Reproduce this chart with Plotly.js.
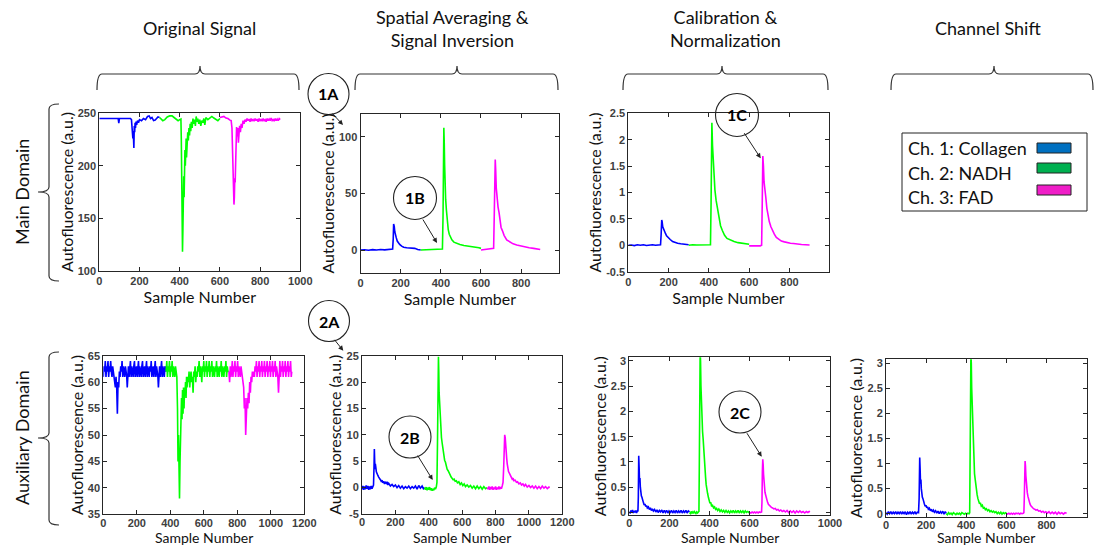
<!DOCTYPE html>
<html><head><meta charset="utf-8">
<script src="https://cdn.plot.ly/plotly-3.0.1.min.js"></script>
<style>html,body{margin:0;padding:0;background:#fff}#chart{width:1097px;height:547px}</style>
</head><body><div id="chart"></div>
<script>
// ---------- DATA: [sample number, autofluorescence] ----------
// Main domain – original signal
const mainOrigCh1 = [[0,245],[20,245],[40,245.5],[60,245],[80,245],[94,245],[97,240.5],[100,245],[120,245],[140,245.3],[155,245],[160,244],[163,230],[165,237],[167,226],[169,233],[172,217],[174,238],[176,232],[178,241],[180,236],[183,242],[186,239],[190,243],[195,241],[200,244],[210,243],[220,245],[230,244],[240,247],[248,247.5],[255,245],[262,246],[270,243],[278,243.5],[285,245],[292,246.5],[300,246]];
const mainOrigCh2 = [[300,246],[308,244.5],[316,243],[326,244],[338,246.5],[350,247.5],[362,247.5],[372,246],[382,244],[392,243],[400,244],[406,244.5],[408,225],[410,180],[412,140],[414,118],[416,140],[418,172],[420,190],[422,170],[424,205],[426,215],[428,200],[430,215],[432,226],[434,208],[436,228],[438,218],[440,232],[443,224],[446,236],[449,229],[452,240],[455,233],[458,242],[462,236],[466,245],[470,240],[474,244],[478,238],[482,247],[486,242],[490,245],[495,240],[500,244],[505,238],[510,243],[515,241],[520,245],[525,239],[530,246],[540,244],[550,246],[560,247],[570,245.5],[580,244],[590,243],[600,245]];
const mainOrigCh3 = [[600,246],[610,246.5],[620,247],[630,245.5],[640,245],[650,243.5],[656,243],[660,236],[663,215],[666,195],[668,178],[670,163],[672,170],[674,188],[676,184],[678,200],[680,222],[683,237],[686,228],[689,236],[692,222],[695,228],[698,238],[702,232],[706,240],[710,236],[715,243],[720,240],[725,244],[730,242],[735,245],[740,243],[745,244.5],[750,242],[755,245],[760,243],[765,244],[770,242.5],[775,245],[780,243],[785,244.5],[790,242],[795,245],[800,243],[805,244],[810,242.5],[815,245],[820,243],[825,244],[830,242],[835,245],[840,243],[845,244.5],[850,243],[855,245.5],[860,243],[865,244],[870,242.5],[875,245],[880,243],[885,244.5],[890,243],[895,245],[900,244]];
// Main domain – spatial averaging & inversion
const mainSpatCh1 = [[0,0],[20,0.3],[40,-0.2],[60,0.4],[80,0.1],[100,0.5],[120,0.2],[140,0.3],[155,0.5],[160,1],[163,10],[165,23],[168,21],[171,16],[174,13],[178,11],[183,8],[188,6.5],[195,5],[205,3.5],[215,2.5],[230,2],[245,1.8],[260,1.2],[270,1.5],[285,0.5],[300,0]];
const mainSpatCh2 = [[300,0],[330,0.3],[360,0.5],[390,0.8],[408,1],[411,30],[413,80],[415,108],[417,95],[419,75],[421,58],[424,45],[428,35],[432,25],[437,18],[442,14],[448,11],[455,9],[465,7],[478,6],[495,5],[515,4],[540,3.5],[560,3],[575,2.5],[590,2],[600,1.5]];
const mainSpatCh3 = [[600,0],[620,0.3],[640,0.6],[655,0.8],[663,1.5],[666,30],[669,65],[671,80],[673,72],[676,55],[680,45],[685,38],[690,33],[695,25],[700,20],[707,17],[715,13],[728,9],[745,7],[760,5.5],[778,4.5],[800,3.5],[820,2.5],[840,2],[862,1.5],[880,0.8],[895,0.5]];
// Main domain – calibration & normalization
const mainCalCh1 = [[0,0],[15,0.005],[30,-0.005],[45,0.01],[60,0],[75,0.01],[90,-0.005],[105,0.005],[120,0.01],[135,0],[150,0.005],[160,0.01],[163,0.2],[166,0.48],[168,0.45],[171,0.35],[175,0.3],[180,0.28],[185,0.22],[190,0.18],[198,0.14],[208,0.11],[220,0.07],[232,0.05],[245,0.04],[260,0.03],[275,0.02],[290,0.01],[300,0.01]];
const mainCalCh2 = [[300,0],[320,0.01],[340,0.005],[360,0.01],[380,0.005],[400,0.01],[408,0.01],[411,0.8],[413,1.9],[415,2.32],[418,1.9],[421,1.6],[425,1.35],[430,1.05],[436,0.85],[442,0.7],[450,0.5],[458,0.37],[467,0.28],[478,0.19],[490,0.13],[508,0.095],[525,0.07],[545,0.05],[560,0.045],[580,0.03],[600,0.02]];
const mainCalCh3 = [[600,-0.01],[615,-0.005],[630,-0.012],[645,-0.008],[655,-0.01],[662,0],[665,0.8],[668,1.69],[671,1.5],[674,1.2],[678,1.0],[683,0.9],[688,0.7],[694,0.55],[700,0.45],[708,0.35],[716,0.27],[725,0.21],[735,0.15],[748,0.11],[760,0.08],[775,0.065],[790,0.05],[805,0.04],[820,0.035],[842,0.02],[860,0.015],[880,0.01],[900,0.005]];
// Auxiliary domain – original signal
const auxOrigCh1 = [[0,61],[4,63],[8,62],[12,64],[16,61],[20,63],[24,62],[28,64],[32,61],[36,63],[40,62],[44,64],[48,62],[52,61],[56,63],[60,62],[64,61],[68,60],[72,59],[76,61],[80,59],[84,54],[88,60],[92,59],[96,62],[100,61],[104,63],[108,62],[112,64],[116,61],[120,63],[124,62],[128,61],[132,63],[136,62],[140,61],[143,59],[146,62],[150,63],[154,61],[158,62],[162,64],[166,61],[170,63],[174,62],[178,61],[182,63],[186,64],[190,61],[194,62],[198,63],[202,61],[206,62],[210,64],[214,61],[218,63],[222,62],[226,61],[230,63],[234,64],[238,61],[242,62],[246,63],[250,61],[254,62],[258,64],[262,61],[266,63],[270,62],[274,61],[278,63],[282,62],[286,64],[290,61],[294,62],[298,63],[302,61],[306,62],[310,64],[314,61],[318,63],[322,62],[326,61],[329,59],[332,62],[336,63],[340,61],[344,62],[348,64],[352,61],[356,63],[360,62],[364,61],[368,63],[372,62],[375,62]];
const auxOrigCh2 = [[375,62],[379,64],[383,61],[387,63],[391,62],[395,64],[399,61],[403,63],[407,62],[411,64],[415,61],[419,63],[423,62],[427,61],[431,63],[435,62],[439,61],[443,55],[446,45],[449,50],[452,42],[455,38],[458,45],[461,53],[464,50],[467,57],[470,53],[473,58.5],[476,54],[479,59],[482,55],[485,59],[488,58],[491,60],[494,57],[497,61],[500,59],[504,61],[508,60],[512,62],[516,59],[520,61],[524,62],[528,60],[532,61],[536,58],[540,62],[544,61],[548,63],[552,60],[556,62],[560,61],[564,63],[568,62],[572,64],[576,61],[580,63],[584,62],[588,60],[592,63],[596,62],[600,64],[604,61],[608,63],[612,62],[616,64],[620,61],[624,63],[628,62],[632,64],[636,61],[640,63],[644,62],[648,64],[652,61],[656,63],[660,62],[664,61],[668,63],[672,62],[676,64],[680,61],[684,63],[688,62],[692,61],[696,63],[700,62],[704,64],[708,61],[712,63],[716,62],[720,61],[724,63],[728,62],[732,64],[736,61],[740,63],[744,62],[750,62]];
const auxOrigCh3 = [[750,62],[754,60],[758,63],[762,61],[766,62],[770,64],[774,61],[778,63],[782,62],[786,64],[790,61],[794,63],[798,62],[802,64],[806,61],[810,63],[814,62],[818,61],[822,63],[826,62],[830,61],[834,60],[838,59],[842,55],[846,57],[850,50],[854,54],[858,57],[862,55],[866,58],[870,56],[874,60],[878,58],[882,61],[886,60],[890,62],[894,61],[898,62],[902,61],[906,63],[910,62],[914,64],[918,61],[922,63],[926,62],[930,64],[934,61],[938,63],[942,62],[946,64],[950,61],[954,63],[958,62],[962,64],[966,61],[970,63],[974,62],[978,64],[982,61],[986,63],[990,62],[994,64],[998,61],[1002,63],[1006,62],[1010,64],[1014,61],[1018,63],[1022,62],[1026,64],[1030,61],[1034,63],[1038,62],[1042,61],[1046,58],[1050,62],[1054,64],[1058,61],[1062,63],[1066,62],[1070,64],[1074,61],[1078,63],[1082,62],[1086,64],[1090,61],[1094,63],[1098,62],[1102,64],[1106,61],[1110,63],[1114,62],[1118,64],[1122,61],[1125,62]];
// Auxiliary domain – spatial averaging & inversion
const auxSpatCh1 = [[0,-0.3],[5,0.3],[10,-0.4],[15,0.2],[20,-0.3],[25,0.4],[30,-0.2],[35,0.3],[40,-0.4],[45,0.2],[50,-0.3],[55,0.3],[60,-0.2],[65,0.2],[69,0.5],[72,4],[74,7.3],[76,5],[78,3.5],[80,4.5],[83,3.8],[86,3],[90,2.8],[95,2.3],[100,2],[105,1.6],[110,1.5],[115,1.2],[120,1.4],[125,0.9],[130,1.2],[135,0.7],[140,1],[145,0.8],[150,1.1],[155,0.5],[160,0.8],[170,0.3],[180,0.6],[190,0.2],[200,0.5],[210,0],[220,0.4],[230,-0.1],[240,0.3],[250,-0.2],[260,0.2],[270,-0.1],[280,0.3],[290,-0.2],[300,0.2],[310,-0.1],[320,0.3],[330,-0.3],[340,0.4],[350,-0.1],[360,0.3],[368,-0.2],[375,0]];
const auxSpatCh2 = [[375,0],[380,-0.4],[385,0.1],[390,-0.5],[395,0],[400,-0.4],[405,0.1],[410,-0.5],[415,-0.1],[420,-0.6],[425,-0.2],[430,-0.5],[435,0],[440,-0.3],[445,0.1],[449,1],[452,8],[455,18],[458,24.8],[460,22],[462,18],[465,15.5],[468,13],[472,11],[476,9.5],[480,8.5],[485,7],[490,6],[495,5.2],[500,4.8],[505,4],[510,3.5],[516,3.2],[522,2.6],[528,2.4],[534,2],[540,1.8],[546,1.5],[552,1.6],[558,1.2],[565,1.3],[572,0.9],[580,1.1],[588,0.6],[596,0.9],[604,0.4],[612,0.7],[620,0.2],[630,0.5],[640,0.1],[650,0.4],[660,-0.1],[670,0.3],[680,-0.2],[690,0.3],[700,-0.2],[710,0.2],[720,-0.3],[730,0.2],[740,-0.2],[750,0]];
const auxSpatCh3 = [[750,0],[755,-0.3],[760,0.2],[765,-0.4],[770,0.1],[775,-0.3],[780,0.2],[785,-0.4],[790,0],[795,-0.3],[800,0.2],[805,-0.4],[810,0],[815,-0.3],[820,0.2],[825,-0.3],[830,0.1],[835,-0.2],[840,0.3],[845,1],[849,4],[852,8],[855,10],[858,9.5],[861,7],[864,6],[867,5.5],[870,4.5],[874,3.5],[878,3],[882,2.8],[886,2.5],[890,2.2],[895,2],[900,1.6],[905,1.8],[910,1.3],[918,1.4],[925,1],[932,1.1],[940,0.7],[948,0.9],[956,0.5],[964,0.7],[972,0.3],[980,0.6],[990,0.1],[1000,0.4],[1010,0],[1020,0.3],[1030,-0.1],[1040,0.3],[1050,-0.2],[1060,0.2],[1070,-0.2],[1080,0.3],[1090,-0.1],[1100,0.2],[1110,-0.2],[1120,0.1],[1125,0]];
// Auxiliary domain – calibration & normalization
const auxCalCh1 = [[0,0.02],[4,-0.02],[8,0.04],[12,0],[16,0.05],[20,-0.01],[24,0.03],[28,0],[32,0.04],[36,-0.01],[40,0.03],[43,0.02],[45,0.3],[47,1.12],[49,0.9],[51,0.6],[53,0.68],[55,0.5],[57,0.4],[60,0.33],[63,0.3],[66,0.22],[70,0.2],[74,0.15],[78,0.17],[82,0.12],[86,0.14],[90,0.09],[95,0.11],[100,0.06],[105,0.09],[110,0.04],[115,0.07],[120,0.03],[126,0.06],[132,0.01],[138,0.05],[144,0],[150,0.04],[156,0.01],[162,0.05],[168,-0.01],[174,0.04],[180,0],[186,0.04],[192,-0.01],[198,0.03],[204,0],[210,0.04],[216,-0.01],[222,0.03],[228,0],[234,0.04],[240,-0.01],[246,0.03],[252,0],[258,0.04],[264,-0.01],[270,0.03],[276,0],[282,0.04],[288,-0.01],[294,0.03],[300,0.01]];
const auxCalCh2 = [[300,0],[304,-0.02],[308,0.02],[312,-0.01],[316,0.01],[320,-0.02],[324,0.02],[328,0],[332,-0.02],[336,0.01],[340,-0.01],[344,0.01],[347,0.02],[349,1],[351,2.6],[353,3.2],[355,3.0],[357,2.5],[359,2.2],[362,1.9],[365,1.6],[368,1.45],[371,1.2],[374,1.0],[377,0.9],[380,0.7],[383,0.55],[386,0.44],[390,0.38],[394,0.3],[398,0.22],[402,0.18],[406,0.2],[410,0.12],[415,0.14],[420,0.09],[425,0.11],[430,0.06],[435,0.08],[440,0.04],[446,0.07],[452,0.02],[458,0.05],[464,0.01],[470,0.04],[476,0],[482,0.04],[488,0],[494,0.03],[500,-0.01],[506,0.03],[512,0],[518,0.04],[524,-0.01],[530,0.03],[536,0],[542,0.04],[548,-0.01],[554,0.03],[560,0],[566,0.03],[572,-0.01],[578,0.03],[584,0],[590,0.02],[596,0],[600,0.01]];
const auxCalCh3 = [[600,0],[606,-0.01],[612,0.01],[618,-0.01],[624,0.01],[630,-0.01],[636,0.01],[642,-0.01],[648,0.01],[654,0],[659,0.01],[661,0.2],[663,0.8],[665,1.05],[667,0.95],[669,0.75],[671,0.6],[673,0.5],[676,0.4],[679,0.35],[682,0.28],[685,0.24],[689,0.2],[693,0.16],[697,0.14],[702,0.12],[708,0.1],[714,0.09],[720,0.07],[727,0.08],[734,0.05],[741,0.06],[748,0.03],[755,0.05],[762,0.02],[770,0.04],[778,0.01],[786,0.04],[794,0],[802,0.03],[810,0],[818,0.03],[826,-0.01],[834,0.03],[842,0],[850,0.03],[858,0],[866,0.02],[874,-0.01],[882,0.02],[890,0],[896,0.02],[900,0.01]];
// Auxiliary domain – channel shift
const auxShiftCh1 = [[0,0.02],[6,-0.01],[12,0.04],[18,0],[24,0.04],[30,-0.01],[36,0.03],[42,0],[48,0.04],[54,-0.01],[60,0.03],[66,0],[72,0.04],[78,-0.01],[84,0.03],[90,0],[96,0.04],[102,-0.02],[108,0.03],[114,0],[120,0.04],[126,-0.01],[132,0.03],[138,0],[144,0.04],[150,-0.01],[156,0.03],[162,0.02],[165,0.3],[168,1.12],[170,0.9],[172,0.6],[174,0.68],[176,0.5],[178,0.4],[181,0.33],[184,0.3],[187,0.22],[191,0.2],[195,0.15],[199,0.17],[203,0.12],[207,0.14],[211,0.09],[216,0.11],[221,0.06],[226,0.09],[231,0.04],[236,0.07],[241,0.03],[247,0.06],[253,0.01],[259,0.05],[265,0],[271,0.04],[277,0.01],[283,0.05],[289,-0.01],[295,0.04],[300,0.01]];
const auxShiftCh2 = [[300,0],[306,-0.02],[312,0.02],[318,-0.01],[324,0.01],[330,-0.02],[336,0.02],[342,0],[348,-0.02],[354,0.01],[360,-0.01],[366,0.01],[372,-0.02],[378,0.02],[384,0],[390,-0.01],[396,0.01],[402,-0.01],[408,0.01],[414,0],[417,0.02],[419,1],[421,2.6],[423,3.2],[425,3.0],[427,2.5],[429,2.2],[432,1.8],[435,1.4],[438,1.0],[441,0.8],[444,0.7],[447,0.55],[450,0.44],[454,0.38],[458,0.3],[462,0.25],[466,0.2],[470,0.22],[475,0.15],[480,0.17],[485,0.11],[490,0.12],[495,0.08],[500,0.1],[506,0.06],[512,0.08],[518,0.04],[524,0.06],[530,0.03],[536,0.05],[542,0.02],[548,0.04],[554,0],[560,0.03],[566,0],[572,0.03],[578,-0.01],[584,0.02],[590,0],[596,0.02],[600,0.01]];
const auxShiftCh3 = [[600,0],[606,-0.01],[612,0.01],[618,-0.01],[624,0.01],[630,-0.01],[636,0.01],[642,-0.01],[648,0.01],[654,0],[660,0.01],[666,-0.01],[672,0.01],[678,0],[684,0.01],[687,0.02],[689,0.3],[691,0.8],[693,1.05],[695,0.95],[697,0.75],[699,0.6],[701,0.52],[704,0.42],[707,0.35],[710,0.28],[713,0.24],[717,0.2],[721,0.16],[725,0.14],[730,0.12],[735,0.1],[741,0.09],[747,0.07],[754,0.08],[761,0.05],[768,0.06],[775,0.03],[782,0.05],[789,0.02],[796,0.04],[804,0.01],[812,0.04],[820,0],[828,0.03],[836,0],[844,0.03],[852,-0.01],[860,0.03],[868,0],[876,0.02],[884,-0.01],[892,0.02],[900,0.01]];

// tick labels
const ticksX1000 = [0,200,400,600,800,1000];
const ticksX800 = [0,200,400,600,800];
const ticksX1200 = [0,200,400,600,800,1000,1200];
const ticksY_mainOrig = [100,150,200,250];
const ticksY_mainSpat = [0,50,100];
const ticksY_cal = [-0.5,0,0.5,1,1.5,2,2.5];
const ticksY_auxOrig = [35,40,45,50,55,60,65];
const ticksY_auxSpat = [-5,0,5,10,15,20,25];
const ticksY_auxCal = [0,0.5,1,1.5,2,2.5,3];
const columnTitles = ['Original Signal','Spatial Averaging &<br>Signal Inversion','Calibration &<br>Normalization','Channel Shift'];
const rowTitles = ['Main Domain','Auxiliary Domain'];
const legendLabels = ['Ch. 1: Collagen','Ch. 2: NADH','Ch. 3: FAD'];
const stepLabels = ['1A','1B','1C','2A','2B','2C'];
const xTitle = 'Sample Number', yTitle = 'Autofluorescence (a.u.)';

// ---------- LAYOUT ----------
const W=1097,H=547;
const px = x=>x/W, py = y=>1-y/H;
const LINE=['#0000ff','#00ff00','#ff00ff'];
const SWATCH=['#0070c0','#00b050','#f01ec8'];
const TF = 'Lato, "Noto Sans", sans-serif';
const fmt = v => String(v);

const panels = [
  {d:[mainOrigCh1,mainOrigCh2,mainOrigCh3], box:[99.3,113.3,300.3,270.7], xr:[0,1000], xt:ticksX1000, yr:[100,250], yt:ticksY_mainOrig},
  {d:[mainSpatCh1,mainSpatCh2,mainSpatCh3], box:[360.5,114.3,559.3,272.7], xr:[0,990], xt:ticksX800, yr:[-20,120], yt:ticksY_mainSpat},
  {d:[mainCalCh1,mainCalCh2,mainCalCh3], box:[628.3,113.3,828.7,271.7], xr:[0,995], xt:ticksX800, yr:[-0.5,2.5], yt:ticksY_cal},
  {d:[auxOrigCh1,auxOrigCh2,auxOrigCh3], box:[103.3,355.7,304.3,514.3], xr:[0,1200], xt:ticksX1200, yr:[35,65], yt:ticksY_auxOrig, bottom:true},
  {d:[auxSpatCh1,auxSpatCh2,auxSpatCh3], box:[362,355.7,562.3,514], xr:[0,1200], xt:ticksX1200, yr:[-5,25], yt:ticksY_auxSpat, bottom:true},
  {d:[auxCalCh1,auxCalCh2,auxCalCh3], box:[629.3,357.3,830,515], xr:[0,1000], xt:ticksX1000, yr:[-0.05,3.07], yt:ticksY_auxCal, bottom:true},
  {d:[auxShiftCh1,auxShiftCh2,auxShiftCh3], box:[886,359.3,1086.7,516.7], xr:[0,1000], xt:ticksX1000, yr:[-0.06,3.08], yt:ticksY_auxCal, bottom:true}
];

const traces=[]; const layout={
  width:W,height:H,margin:{l:0,r:0,t:0,b:0},paper_bgcolor:'#fff',plot_bgcolor:'#fff',
  showlegend:false,font:{family:TF,color:'#000'},shapes:[],annotations:[]
};
const axBase = {showline:true,linecolor:'#262626',linewidth:1,mirror:'ticks',ticks:'inside',ticklen:4,tickcolor:'#262626',
  showgrid:false,zeroline:false,fixedrange:true,automargin:false,
  tickfont:{family:'"Liberation Sans", Arial, sans-serif',size:11,color:'#404040',weight:'bold'}};
panels.forEach((p,i)=>{
  const n=i+1, xs=n===1?'':String(n);
  p.d.forEach((ser,c)=>traces.push({type:'scatter',mode:'lines',x:ser.map(q=>q[0]),y:ser.map(q=>q[1]),
    xaxis:'x'+xs,yaxis:'y'+xs,line:{color:LINE[c],width:1.6},hoverinfo:'skip'}));
  const [x0,y0,x1,y1]=p.box;
  const xa=Object.assign({},axBase,{domain:[px(x0),px(x1)],range:p.xr,anchor:'y'+xs,
    tickvals:p.xt,ticktext:p.xt.map(fmt)});
  if(p.bottom){
    // bottom row: tick labels hug the axis, title placed as text at the page bottom
    xa.ticklabelstandoff=-2;
    layout.annotations.push({xref:'paper',yref:'paper',x:px((x0+x1)/2),y:0,text:xTitle,showarrow:false,
      xanchor:'center',yanchor:'bottom',borderpad:0,font:{family:TF,size:14,color:'#111'}});
  } else {
    xa.title={text:xTitle,font:{family:TF,size:16,color:'#111'},standoff:0};
  }
  layout['xaxis'+xs]=xa;
  layout['yaxis'+xs]=Object.assign({},axBase,{domain:[py(y1),py(y0)],range:p.yr,anchor:'x'+xs,
    tickvals:p.yt,ticktext:p.yt.map(fmt),
    title:{text:yTitle,font:{family:TF,size:16,color:'#111'},standoff:0}});
});

// column headers & braces
const colCenters=[199,452,725,988];
const braceSpan=[[97,299,200],[355,558,457],[623,828,722],[891,1093,994]];
columnTitles.forEach((t,i)=>{
  layout.annotations.push({xref:'paper',yref:'paper',x:px(colCenters[i]),y:py(28),text:t,showarrow:false,
    xanchor:'center',yanchor:'middle',font:{family:TF,size:18,color:'#111'}});
});
function P(x,y){return px(x).toFixed(5)+','+py(y).toFixed(5);}
braceSpan.forEach(([a,b,c])=>{
  const yb=90, yl=74, yt=66, r=5;
  layout.shapes.push({type:'path',xref:'paper',yref:'paper',line:{color:'#333',width:1.2},
    path:`M${P(a,yb)} Q${P(a,yl)} ${P(a+r,yl)} L${P(c-r,yl)} Q${P(c,yl)} ${P(c,yt)} Q${P(c,yl)} ${P(c+r,yl)} L${P(b-r,yl)} Q${P(b,yl)} ${P(b,yb)}`});
});
// row labels & braces
const rowSpan=[[104,281,192],[352,525,438]];
rowTitles.forEach((t,i)=>{
  layout.annotations.push({xref:'paper',yref:'paper',x:px(22),y:py(rowSpan[i][2]),text:t,showarrow:false,textangle:-90,
    xanchor:'center',yanchor:'middle',font:{family:TF,size:18,color:'#111'}});
  const [a,b,c]=rowSpan[i]; const xb=59, xl=49, xt=38, r=5;
  layout.shapes.push({type:'path',xref:'paper',yref:'paper',line:{color:'#333',width:1.2},
    path:`M${P(xb,a)} Q${P(xl,a)} ${P(xl,a+r)} L${P(xl,c-r)} Q${P(xl,c)} ${P(xt,c)} Q${P(xl,c)} ${P(xl,c+r)} L${P(xl,b-r)} Q${P(xl,b)} ${P(xb,b)}`});
});

// step markers (circles with arrows)
const marks=[ // cx, cy, r, headX, headY, tailX, tailY
  [328.5,94,20.5,343,125,331,112],
  [415,198,21.5,437,243,422,218],
  [737,115,21.5,760.7,158.3,743.3,131.7],
  [329,321,20.5,343.3,350.7,333.3,338.3],
  [410,437,21,432.7,480,416.7,454],
  [740,412,21,761.7,456.7,746,431.7]
];
stepLabels.forEach((lab,i)=>{
  const [cx,cy,r,hx,hy,tx,ty]=marks[i];
  layout.shapes.push({type:'circle',xref:'paper',yref:'paper',x0:px(cx-r),x1:px(cx+r),y0:py(cy+r),y1:py(cy-r),
    line:{color:'#222',width:1.1},fillcolor:'rgba(255,255,255,0)'});
  layout.annotations.push({xref:'paper',yref:'paper',x:px(cx),y:py(cy),text:'<b>'+lab+'</b>',showarrow:false,
    xanchor:'center',yanchor:'middle',font:{family:TF,size:16,color:'#000'}});
  layout.annotations.push({xref:'paper',yref:'paper',x:px(hx),y:py(hy),ax:tx-hx,ay:ty-hy,text:'',showarrow:true,
    arrowhead:2,arrowsize:1,arrowwidth:1,arrowcolor:'#222'});
});

// legend box
layout.shapes.push({type:'rect',xref:'paper',yref:'paper',x0:px(902),x1:px(1087),y0:py(211),y1:py(133),line:{color:'#222',width:1}});
const legRows=[148,173,197], swRows=[[143,153],[163,173],[185,195]];
legendLabels.forEach((t,i)=>{
  layout.annotations.push({xref:'paper',yref:'paper',x:px(906),y:py(legRows[i]),text:t,showarrow:false,
    xanchor:'left',yanchor:'middle',font:{family:TF,size:18,color:'#111'}});
  layout.shapes.push({type:'rect',xref:'paper',yref:'paper',x0:px(1037),x1:px(1071),y0:py(swRows[i][1]),y1:py(swRows[i][0]),
    line:{color:'#222',width:1},fillcolor:SWATCH[i]});
});

Plotly.newPlot('chart',traces,layout,{displayModeBar:false,staticPlot:true});
</script></body></html>
